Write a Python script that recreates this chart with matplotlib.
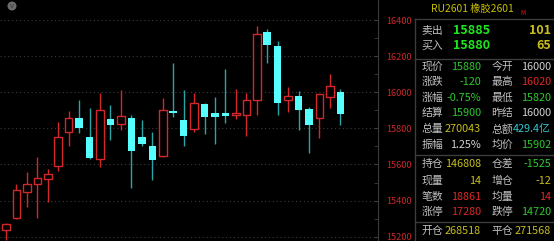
import numpy as np
import matplotlib
matplotlib.use("Agg")
import matplotlib.pyplot as plt
from matplotlib.patches import Circle

plt.rcParams['font.family'] = ['Noto Sans CJK SC', 'DejaVu Sans']

# 日K数据 (开 高 低 收)
opens  = [15235, 15305, 15445, 15490, 15520, 15590, 15780, 15860, 15750, 15630,
          15850, 15825, 15860, 15750, 15705, 15645, 15898, 15845, 15795, 15937,
          15883, 15883, 15872, 15874, 15957, 16332, 16258, 15957, 15977, 15909,
          15857, 15975, 16000]
highs  = [15275, 15490, 15560, 15640, 15575, 15835, 15895, 15955, 15915, 15995,
          15930, 16010, 15875, 15845, 15780, 15970, 16160, 16015, 15995, 15942,
          15975, 16130, 16020, 15994, 16367, 16348, 16282, 16027, 16008, 15920,
          15992, 16099, 16020]
lows   = [15180, 15300, 15365, 15305, 15390, 15565, 15705, 15775, 15630, 15585,
          15735, 15790, 15470, 15700, 15515, 15640, 15865, 15700, 15778, 15769,
          15713, 15828, 15852, 15758, 15874, 16160, 15876, 15892, 15791, 15665,
          15745, 15914, 15820]
closes = [15270, 15460, 15490, 15525, 15545, 15750, 15855, 15800, 15635, 15900,
          15820, 15870, 15675, 15715, 15625, 15900, 15885, 15758, 15940, 15861,
          15861, 15868, 15883, 15957, 16324, 16260, 15939, 15977, 15902, 15820,
          15989, 16036, 15880]
price_ticks = [15200, 15400, 15600, 15800, 16000, 16200, 16400]

W, H = 554, 241
UP = '#d2282a'
DOWN = '#55ffff'
DOWN_WICK = '#2aa5a5'

fig = plt.figure(figsize=(W / 100, H / 100), dpi=100, facecolor='black')
ax = fig.add_axes([0, 0, 377.7 / W, 1])
ax.set_facecolor('black')

x = np.arange(len(opens))
for i in x:
    o, c, hi, lo = opens[i], closes[i], highs[i], lows[i]
    up = c >= o
    ax.vlines(i, lo, hi, color=UP if up else DOWN_WICK, lw=1, zorder=2)
    ax.bar(i, max(abs(c - o), 6), bottom=min(o, c), width=0.72,
           facecolor='black' if up else DOWN, edgecolor=UP if up else DOWN,
           lw=1 if up else 0, zorder=3)

for p in price_ticks:
    ax.axhline(p, color='#3a3a3a', lw=0.8, ls=(0, (1, 2.5)), zorder=1)

ax.set_xlim(-0.574, 35.57)
ax.set_ylim(15176, 16511)
for s in ['top', 'left', 'bottom']:
    ax.spines[s].set_visible(False)
ax.spines['right'].set_color('#3c3c3c')
ax.set_xticks([])
ax.yaxis.tick_right()
ax.set_yticks(price_ticks)
ax.set_yticks(np.arange(15300, 16500, 200), minor=True)
ax.tick_params(axis='y', which='both', direction='in', length=3,
               color='#3c3c3c', labelcolor='#c8282a', labelsize=6.6, pad=6)

# 左上角图标
fig.patches.append(Circle((12, H - 6), 4.5, transform=None,
                          facecolor='#6a6a6a', edgecolor='none'))
fig.text(12 / W, 1 - 6.5 / H, 'v', color='#3a3a3a', fontsize=5,
         ha='center', va='center', family='DejaVu Sans')

# 右侧行情面板
def pos(px, py):
    return px / W, 1 - py / H

line_c = '#3c3c3c'
fig.add_artist(plt.Line2D([415 / W, 415 / W], [0, 1 - 19 / H], color=line_c, lw=1))
for yy in [19, 58.5, 155, 221.7]:
    fig.add_artist(plt.Line2D([415 / W, 1], [1 - yy / H] * 2, color=line_c, lw=1))

LAB = '#c0c0c0'
GRN = '#2ec82e'
RED = '#dc2828'
YEL = '#c8be1e'
WHT = '#d2d2d2'
CYN = '#30c8d2'

fig.text(*pos(430.5, 8.5), 'RU2601 橡胶2601', color='#c8c000', fontsize=7.4,
         ha='left', va='center')
fig.text(*pos(520, 13), 'M', color='#e02020', fontsize=4.5, ha='left', va='center')

for yy, lab, val, vol in [(30.7, '卖出', '15885', '101'), (45.3, '买入', '15880', '65')]:
    fig.text(*pos(421.5, yy), lab, color=LAB, fontsize=7.8, ha='left', va='center')
    fig.text(*pos(453, yy), val, color='#1ee61e', fontsize=9, fontweight='bold',
             ha='left', va='center')
    fig.text(*pos(551, yy), vol, color=YEL, fontsize=9, fontweight='bold',
             ha='right', va='center')

rows = [
    (67, '现价', '15880', GRN, '今开', '16000', WHT),
    (82, '涨跌', '-120', GRN, '最高', '16020', RED),
    (97.7, '涨幅', '-0.75%', GRN, '最低', '15820', GRN),
    (113.3, '结算', '15900', GRN, '昨结', '16000', WHT),
    (129.3, '总量', '270043', YEL, '总额', '429.4亿', CYN),
    (145, '振幅', '1.25%', WHT, '均价', '15902', GRN),
    (164.3, '持仓', '146808', YEL, '仓差', '-1525', GRN),
    (180.7, '现量', '14', YEL, '增仓', '-12', YEL),
    (196.7, '笔数', '18861', RED, '均量', '14', RED),
    (211.7, '涨停', '17280', RED, '跌停', '14720', GRN),
    (231, '开仓', '268518', YEL, '平仓', '271568', YEL),
]
for yy, l1, v1, c1, l2, v2, c2 in rows:
    fig.text(*pos(421.5, yy), l1, color=LAB, fontsize=7.8, ha='left', va='center')
    fig.text(*pos(481, yy), v1, color=c1, fontsize=7.8, ha='right', va='center')
    fig.text(*pos(491.5, yy), l2, color=LAB, fontsize=7.8, ha='left', va='center')
    fig.text(*pos(551, yy), v2, color=c2, fontsize=7.8, ha='right', va='center')

fig.savefig('out.png', dpi=100, facecolor='black')
